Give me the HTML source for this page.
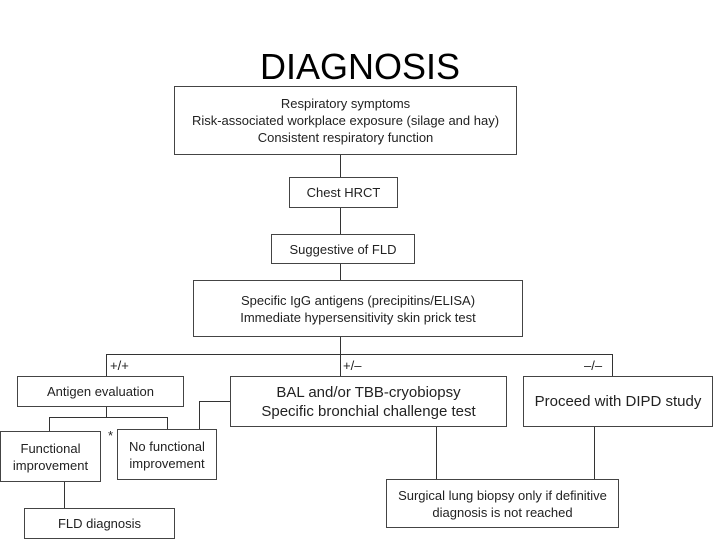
<!DOCTYPE html>
<html><head><style>
body{margin:0;width:720px;height:540px;background:#fff;overflow:hidden;position:relative;font-family:"Liberation Sans",sans-serif;color:#222}
.t{position:absolute;left:0;width:720px;top:46px;text-align:center;font-size:36px;color:#000}
.b{position:absolute;border:1.5px solid #444;box-sizing:border-box;display:flex;align-items:center;justify-content:center;text-align:center;font-size:13px;line-height:17px;background:#fff}
.h{position:absolute;height:0;border-top:1.5px solid #333}
.v{position:absolute;width:0;border-left:1.5px solid #333}
.l{position:absolute;font-size:13px}
</style></head><body>
<div class="t">DIAGNOSIS</div>
<div class="v" style="left:340px;top:154px;height:222px"></div>
<div class="b" style="left:174px;top:86px;width:343px;height:69px">Respiratory symptoms<br>Risk-associated workplace exposure (silage and hay)<br>Consistent respiratory function</div>
<div class="b" style="left:289px;top:177px;width:109px;height:31px">Chest HRCT</div>
<div class="b" style="left:271px;top:234px;width:144px;height:30px">Suggestive of FLD</div>
<div class="b" style="left:193px;top:280px;width:330px;height:57px">Specific IgG antigens (precipitins/ELISA)<br>Immediate hypersensitivity skin prick test</div>
<div class="h" style="left:106px;top:354px;width:507px"></div>
<div class="v" style="left:106px;top:354px;height:22px"></div>
<div class="v" style="left:612px;top:354px;height:22px"></div>
<div class="l" style="left:110px;top:358px">+/+</div>
<div class="l" style="left:343px;top:358px">+/–</div>
<div class="l" style="left:584px;top:358px">–/–</div>
<div class="v" style="left:106px;top:406px;height:12px"></div>
<div class="h" style="left:49px;top:417px;width:119px"></div>
<div class="v" style="left:49px;top:417px;height:14px"></div>
<div class="v" style="left:167px;top:417px;height:12px"></div>
<div class="h" style="left:199px;top:401px;width:32px"></div>
<div class="v" style="left:199px;top:401px;height:28px"></div>
<div class="v" style="left:64px;top:482px;height:26px"></div>
<div class="v" style="left:436px;top:426px;height:53px"></div>
<div class="v" style="left:594px;top:426px;height:53px"></div>
<div class="b" style="left:17px;top:376px;width:167px;height:31px">Antigen evaluation</div>
<div class="b" style="left:230px;top:376px;width:277px;height:51px;font-size:15px;line-height:19px">BAL and/or TBB-cryobiopsy<br>Specific bronchial challenge test</div>
<div class="b" style="left:523px;top:376px;width:190px;height:51px;font-size:15px">Proceed with DIPD study</div>
<div class="b" style="left:0px;top:431px;width:101px;height:51px">Functional<br>improvement</div>
<div class="l" style="left:108px;top:428px">*</div>
<div class="b" style="left:117px;top:429px;width:100px;height:51px">No functional<br>improvement</div>
<div class="b" style="left:24px;top:508px;width:151px;height:31px">FLD diagnosis</div>
<div class="b" style="left:386px;top:479px;width:233px;height:49px">Surgical lung biopsy only if definitive<br>diagnosis is not reached</div>
</body></html>
